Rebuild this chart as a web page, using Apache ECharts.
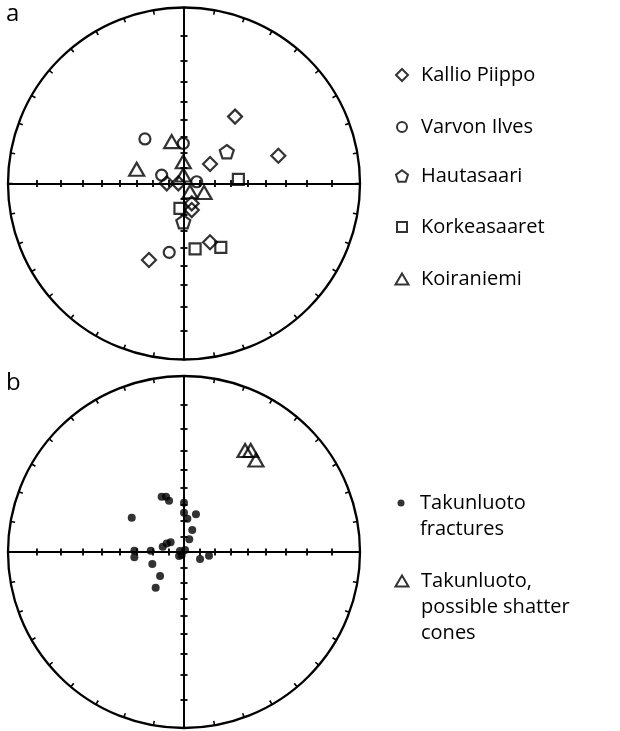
<!DOCTYPE html>
<html>
<head>
<meta charset="utf-8">
<script src="https://cdn.jsdelivr.net/npm/echarts@6/dist/echarts.min.js"></script>
<style>
  html, body { margin: 0; padding: 0; background: #fff; }
  #chart { width: 620px; height: 731px; }
</style>
</head>
<body>
<div id="chart"></div>
<script>
// Poles in stereographic (Wulff) projection, lower hemisphere.
// Coordinates are [east, north] in units of the primitive circle radius.

// Net a
const kallioPiippo = [
  [0.290, 0.380], [0.536, 0.158], [0.148, 0.111], [-0.098, 0.001], [-0.032, 0.001],
  [0.044, -0.113], [0.044, -0.151], [0.148, -0.334], [-0.199, -0.435]
];
const varvonIlves = [
  [-0.222, 0.253], [-0.004, 0.228], [-0.127, 0.048], [0.072, 0.010], [-0.084, -0.391]
];
const hautasaari = [
  [0.243, 0.181], [-0.004, -0.217]
];
const korkeasaaret = [
  [0.309, 0.024], [-0.023, -0.141], [0.063, -0.372], [0.209, -0.363]
];
const koiraniemi = [
  [-0.070, 0.238], [-0.269, 0.081], [-0.004, 0.124], [-0.004, 0.048], [0.034, -0.047], [0.114, -0.051]
];

// Net b
const takunluotoFractures = [
  [-0.127, 0.314], [-0.102, 0.314], [-0.085, 0.291], [0.000, 0.280], [-0.297, 0.195],
  [0.000, 0.223], [0.068, 0.214], [0.019, 0.189], [0.047, 0.125], [0.030, 0.072],
  [-0.121, 0.030], [-0.098, 0.049], [-0.076, 0.055], [-0.282, 0.007], [-0.282, -0.030],
  [-0.189, 0.007], [-0.023, 0.006], [0.006, 0.011], [-0.028, -0.023], [-0.013, -0.017],
  [0.091, -0.040], [0.142, -0.021], [-0.180, -0.068], [-0.136, -0.136], [-0.161, -0.203]
];
const takunluotoCones = [
  [0.347, 0.577], [0.379, 0.577], [0.409, 0.523]
];

// Dip graduations along the N-S and E-W diameters (every 10 degrees)
const tickDips = [80, 70, 60, 50, 40, 30, 20, 10];

const panelLabels = ['a', 'b'];
const legendText = {
  'Kallio Piippo': 'Kallio Piippo',
  'Varvon Ilves': 'Varvon Ilves',
  'Hautasaari': 'Hautasaari',
  'Korkeasaaret': 'Korkeasaaret',
  'Koiraniemi': 'Koiraniemi',
  'Takunluoto fractures': '\nTakunluoto\nfractures',
  'Takunluoto possible shatter cones': '\n\nTakunluoto,\npossible shatter\ncones'
};

const INK = '#000';
const FONT = 'Open Sans';
const R = 176;
const nets = [
  { cx: 184, cy: 183.5 },
  { cx: 184, cy: 552 }
];

// Stereographic radius of a line with the given plunge
const stereoR = dip => Math.tan((90 - dip) / 2 * Math.PI / 180);
const tickValues = [];
tickDips.forEach(d => { tickValues.push(stereoR(d)); tickValues.push(-stereoR(d)); });

const grids = [], xAxes = [], yAxes = [], polars = [], angleAxes = [], radiusAxes = [];
nets.forEach((n, i) => {
  grids.push({ left: n.cx - R, top: n.cy - R, width: 2 * R, height: 2 * R });
  // two axes per direction so the graduations cross the diameter on both sides
  for (let k = 0; k < 2; k++) {
    const axisBase = {
      type: 'value', min: -1, max: 1, gridIndex: i,
      axisLine: { show: true, onZero: true, onZeroAxisIndex: i * 2, lineStyle: { color: INK, width: 2 } },
      axisTick: { show: true, length: 3.5, customValues: tickValues, lineStyle: { color: INK, width: 1.8 } },
      axisLabel: { show: false },
      splitLine: { show: false }
    };
    xAxes.push(Object.assign({}, axisBase, { position: k === 0 ? 'bottom' : 'top' }));
    yAxes.push(Object.assign({}, axisBase, { position: k === 0 ? 'left' : 'right' }));
  }
  polars.push({ center: [n.cx, n.cy], radius: R });
  angleAxes.push({
    polarIndex: i, type: 'value', min: 0, max: 360, interval: 10, startAngle: 90, clockwise: true,
    axisLine: { show: true, lineStyle: { color: INK, width: 2.3 } },
    axisTick: { show: true, inside: true, length: 4.5, lineStyle: { color: INK, width: 1.6 } },
    axisLabel: { show: false },
    splitLine: { show: false }
  });
  radiusAxes.push({ polarIndex: i, min: 0, max: 1, show: false });
});

const hollow = { color: 'rgba(0,0,0,0)', borderColor: INK, borderWidth: 2.2 };
const pentagon = 'path://M0,-1L0.951,-0.309L0.588,0.809L-0.588,0.809L-0.951,-0.309Z';

function scatter(name, data, net, symbol, size, style) {
  return {
    type: 'scatter', name, data,
    xAxisIndex: net * 2, yAxisIndex: net * 2,
    symbol, symbolSize: size, symbolKeepAspect: true,
    itemStyle: style, emphasis: { disabled: true }, z: 3
  };
}

const series = [
  scatter('Kallio Piippo', kallioPiippo, 0, 'diamond', [14, 14], hollow),
  scatter('Varvon Ilves', varvonIlves, 0, 'circle', 11, hollow),
  scatter('Hautasaari', hautasaari, 0, pentagon, 14, hollow),
  scatter('Korkeasaaret', korkeasaaret, 0, 'rect', 11, hollow),
  scatter('Koiraniemi', koiraniemi, 0, 'triangle', [15, 13], hollow),
  scatter('Takunluoto fractures', takunluotoFractures, 1, 'circle', 8, { color: INK }),
  scatter('Takunluoto possible shatter cones', takunluotoCones, 1, 'triangle', [15, 13], hollow)
];

// one legend block per entry so each keys its own symbol size and row position
function legendEntry(name, centerY, w, h, lines) {
  const lh = 26;
  const textStart = 420;
  const left = 401 - w / 2;
  return {
    data: [name], orient: 'vertical', left, top: centerY - (lines * lh) / 2,
    padding: 0, itemWidth: w, itemHeight: h, selectedMode: false,
    formatter: nm => legendText[nm],
    textStyle: {
      fontFamily: FONT, fontSize: 20, color: INK, lineHeight: lh,
      padding: [0, 0, 0, textStart - (left + w + 5)]
    }
  };
}

const legends = [
  legendEntry('Kallio Piippo', 75, 12, 12, 1),
  legendEntry('Varvon Ilves', 127, 10, 10, 1),
  legendEntry('Hautasaari', 176, 12, 12, 1),
  legendEntry('Korkeasaaret', 227, 10, 10, 1),
  legendEntry('Koiraniemi', 279, 13, 11, 1),
  legendEntry('Takunluoto fractures', 503, 7, 7, 3),
  legendEntry('Takunluoto possible shatter cones', 581, 13, 11, 5)
];

const titles = panelLabels.map((t, i) => ({
  text: t, left: 6, top: i === 0 ? 2 : 371, padding: 0,
  textStyle: { fontFamily: FONT, fontSize: 24, fontWeight: 'normal', color: INK }
}));

const chart = echarts.init(document.getElementById('chart'), null, { renderer: 'canvas' });
chart.setOption({
  animation: false,
  backgroundColor: '#fff',
  title: titles,
  legend: legends,
  grid: grids,
  xAxis: xAxes,
  yAxis: yAxes,
  polar: polars,
  angleAxis: angleAxes,
  radiusAxis: radiusAxes,
  series
});
</script>
</body>
</html>
